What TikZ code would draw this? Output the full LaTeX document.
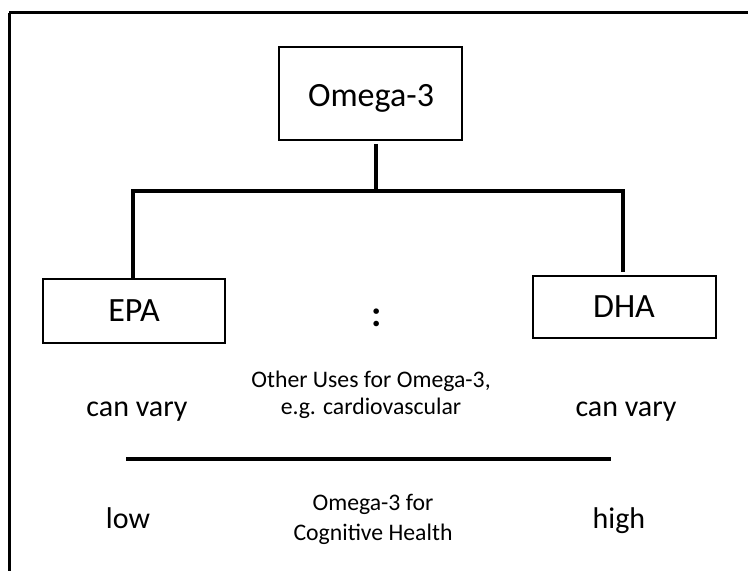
\documentclass[tikz,border=0pt]{standalone}
\usepackage{fontspec}
\setmainfont{Carlito}
\usetikzlibrary{calc}
\begin{document}
\begin{tikzpicture}[x=0.75pt,y=-0.75pt,
  box/.style={draw=black,line width=1pt,rectangle,inner sep=0pt},
  conn/.style={draw=black,line width=3pt,line join=miter,line cap=butt},
  frame/.style={draw=black,line width=2.25pt},
  big/.style={font=\fontsize{25.5pt}{30pt}\selectfont,inner sep=0pt,anchor=base},
  mid/.style={font=\fontsize{22.5pt}{27pt}\selectfont,inner sep=0pt,anchor=base},
  small/.style={font=\fontsize{17.8pt}{21pt}\selectfont,inner sep=0pt,anchor=base}]
\useasboundingbox (0,0) rectangle (748,570);
\clip (0,0) rectangle (748,570);
% outer frame (runs off the right and bottom edges)
\draw[frame] (9,13) -- (760,13);
\draw[frame] (9,13) -- (9,580);
% boxes
\node[box,minimum width=137.25pt,minimum height=69.75pt] (omega) at (370.5,93.5) {};
\node[big] (omegat) at (371,107) {Omega-3};
\node[box,minimum width=136.5pt,minimum height=48pt] (epa) at (134,311) {};
\node[big] (epat) at (134,321) {EPA};
\node[box,minimum width=137.25pt,minimum height=46.5pt] (dha) at (624.5,307) {};
\node[big] (dhat) at (624,317) {DHA};
% tree connectors
\coordinate (otop) at (376,144);
\coordinate (jn) at (376,191);
\coordinate (lbar) at (133,191);
\coordinate (rbar) at (623,191);
\coordinate (rend) at (623,272);
\draw[conn] (otop) -- (jn);
\draw[conn] (epa.north -| lbar) -- (lbar) -- (rbar) -- (rend);
% middle texts
\node[font=\fontsize{28pt}{30pt}\bfseries\selectfont,inner sep=0pt] (colon) at (377,318) {:};
\node[small] (other1) at (371,387) {Other Uses for Omega-3,};
\node[small] (other2) at (371,414) {e.g. cardiovascular};
\node[mid] (cvl) at (137,416) {can vary};
\node[mid] (cvr) at (626,416) {can vary};
% bottom scale
\coordinate (sl) at (126,459);
\coordinate (sr) at (611,459);
\draw[conn] (sl) -- (sr);
\node[mid] (low) at (128,528) {low};
\node[mid] (high) at (619,528) {high};
\node[small] (cog1) at (373,510) {Omega-3 for};
\node[small] (cog2) at (373,540) {Cognitive Health};
\end{tikzpicture}
\end{document}
